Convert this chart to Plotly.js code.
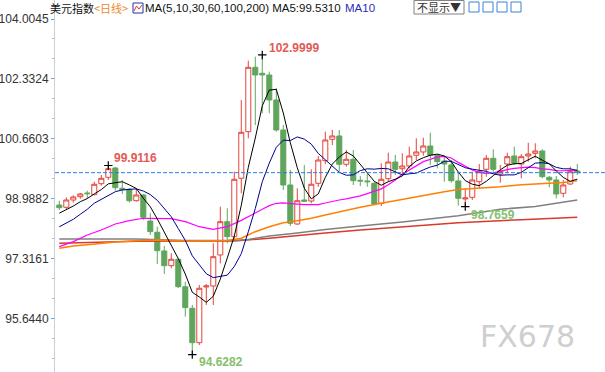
<!DOCTYPE html>
<html><head><meta charset="utf-8">
<script src="https://cdn.plot.ly/plotly-3.0.1.min.js"></script>
<style>html,body{margin:0;padding:0;background:#fff;}#c{width:605px;height:372px;}</style>
</head><body><div id="c"></div>
<script>
// ---- data ----
const opens = [98.809,98.745,98.949,99.041,99.145,99.097,99.404,99.583,99.843,99.276,
99.248,98.929,99.089,98.362,98.047,97.525,97.114,97.293,96.527,95.924,
94.963,96.519,96.547,97.413,98.343,97.924,99.555,100.857,102.655,102.488,
102.440,101.742,100.904,99.368,98.279,98.949,98.921,99.415,100.047,100.644,
100.737,99.946,100.086,99.499,99.480,99.415,98.857,99.544,100.010,99.823,
99.899,100.197,100.290,100.457,100.197,100.038,99.927,99.480,98.977,99.024,
99.460,99.806,100.114,99.675,99.954,100.178,99.954,100.178,100.253,100.318,
99.583,99.508,99.136,99.396,99.759];
const highs = [98.929,99.024,99.080,99.145,99.209,99.460,99.647,99.9116,99.871,99.508,
99.276,99.276,99.117,98.578,98.203,97.664,97.460,97.329,96.667,96.016,
96.575,96.603,97.740,98.762,98.717,99.739,101.742,102.840,102.951,102.9999,
102.533,102.069,101.044,99.787,99.276,99.927,99.806,100.178,100.857,100.904,
100.904,100.346,100.346,99.619,99.675,99.460,99.974,100.270,100.206,100.253,
100.438,100.672,100.689,100.829,100.234,100.158,100.066,99.731,99.276,99.739,
99.954,100.206,100.365,99.927,100.270,100.438,100.234,100.549,100.533,100.365,
99.619,99.619,99.508,99.879,99.954];
const lows = [98.670,98.689,98.874,98.985,98.985,99.080,99.348,99.508,99.209,99.117,
98.874,98.902,98.390,97.971,97.161,96.882,97.041,96.491,95.689,94.6282,
94.899,96.016,96.016,97.181,97.740,97.832,99.136,100.672,101.044,101.371,
101.371,100.857,99.228,98.223,98.251,98.902,98.857,99.320,99.954,100.485,
99.739,99.879,99.368,99.340,99.320,98.801,98.781,99.460,99.647,99.675,
99.834,100.066,100.186,99.927,99.834,99.460,99.432,98.790,98.7659,98.949,
99.276,99.600,99.739,99.432,99.695,99.927,99.555,100.019,100.114,99.555,
99.304,98.996,99.024,99.368,99.647];
const closes = [98.734,98.949,99.033,99.117,99.125,99.388,99.555,99.823,99.293,99.237,
98.929,99.089,98.466,98.064,97.533,97.114,97.293,96.527,95.941,94.963,
96.483,96.547,97.365,98.343,97.924,99.527,100.840,102.655,102.440,102.440,
101.742,100.904,99.368,98.298,98.929,98.913,99.388,100.066,100.625,100.737,
99.946,100.086,99.488,99.480,99.460,98.837,99.527,100.010,99.806,99.899,
100.178,100.290,100.457,100.197,100.019,99.954,99.488,98.996,99.005,99.508,
99.739,100.114,99.806,99.759,100.158,99.974,100.158,100.234,100.318,99.600,
99.508,99.117,99.368,99.739,99.712];

const ma5 = [98.58,98.67,98.78,98.90,98.99,99.12,99.24,99.40,99.44,99.46,
99.37,99.27,99.00,98.76,98.42,98.05,97.69,97.31,96.88,96.37,
96.24,96.09,96.26,96.74,97.33,97.94,98.80,99.86,100.68,101.58,
102.02,102.04,101.38,100.55,99.85,99.28,98.98,99.12,99.58,99.95,
100.15,100.29,100.18,99.95,99.69,99.47,99.36,99.46,99.53,99.62,
99.88,100.04,100.13,100.20,100.23,100.18,100.02,99.73,99.49,99.39,
99.35,99.47,99.63,99.79,99.92,99.96,99.97,100.06,100.17,100.06,
99.96,99.76,99.58,99.47,99.531];
const ma10 = [98.20,98.30,98.41,98.55,98.69,98.86,98.97,99.09,99.18,99.23,
99.24,99.26,99.20,99.10,98.94,98.71,98.48,98.15,97.82,97.39,
97.15,96.89,96.78,96.81,96.85,97.09,97.45,98.06,98.71,99.46,
99.98,100.42,100.62,100.61,100.71,100.65,100.51,100.25,100.07,99.90,
99.72,99.64,99.65,99.77,99.82,99.81,99.83,99.82,99.74,99.65,
99.68,99.70,99.79,99.87,99.92,100.03,100.03,99.93,99.85,99.81,
99.77,99.75,99.68,99.64,99.65,99.65,99.72,99.85,99.98,99.99,
99.96,99.86,99.82,99.82,99.77];
const ma30Pos = [0,2,4,6,8,10,12,14,16,18,20,22,24,26,28,
29,30,31,32,33,34,35,36,37,38,39,40,41,42,43,44,45,46,47,48,49,50,51,
52,53,54,55,56,57,58,59,60,61,62,63,64,65,66,67,68,69,70,71,72,73,74];
const ma30 = [97.645,97.785,97.971,98.111,98.279,98.371,98.438,98.438,98.427,98.343,98.203,98.131,98.203,98.38,98.60,
98.691,98.792,98.857,98.868,98.841,98.834,98.818,98.813,98.821,98.865,98.915,98.949,98.982,99.016,99.064,99.128,99.185,99.260,99.376,99.505,99.669,99.792,99.917,
100.020,100.082,100.152,100.166,100.121,99.999,99.884,99.787,99.720,99.694,99.708,99.757,99.798,99.833,99.859,99.865,99.854,99.816,99.802,99.769,99.765,99.774,99.783];
const ma60Pos = [0,2,4,6,8,11,14,18,22,24,26,28,30,32,34,36,38,40,43,46,49,52,55,57,60,63,66,69,72,74];
const ma60 = [97.600,97.664,97.701,97.740,97.776,97.813,97.832,97.804,97.804,97.818,97.880,98.064,98.203,98.315,98.371,98.438,98.529,98.622,98.745,98.857,98.969,99.061,99.181,99.242,99.276,99.320,99.376,99.41,99.44,99.49];
const ma100Pos = [0,11,18,25,27,30,34,38,43,49,57,63,68,72,74];
const ma100 = [97.860,97.860,97.818,97.818,97.846,97.943,98.027,98.125,98.222,98.334,98.510,98.69,98.77,98.88,98.949];
const ma200Pos = [0,11,18,25,30,34,38,43,49,57,66,74];
const ma200 = [97.740,97.796,97.804,97.804,97.880,97.943,98.027,98.111,98.203,98.315,98.399,98.466];

const tickVals = [104.0045,102.3324,100.6603,98.9882,97.3161,95.6440];
const tickText = ['104.0045','102.3324','100.6603','98.9882','97.3161','95.6440'];

// ---- helpers ----
const pos = closes.map((_, i) => i);
const PX = x => (x - 55) / 550, PY = y => 1 - y / 372;
function argExt(arr, a, b, cmp) { let k = a; for (let i = a; i <= b; i++) if (cmp(arr[i], arr[k])) k = i; return k; }
const iMax = argExt(highs, 0, highs.length - 1, (p, q) => p > q);
const iMin = argExt(lows, 0, lows.length - 1, (p, q) => p < q);
const iLocMax = argExt(highs, 0, 15, (p, q) => p > q);
const iLocMin = argExt(lows, 40, lows.length - 1, (p, q) => p < q);

const RED = '#e4443b', GREEN = '#5fa65c';
const traces = [
  {type: 'candlestick', x: pos, open: opens, high: highs, low: lows, close: closes,
   increasing: {line: {color: RED, width: 1}, fillcolor: '#ffffff'},
   decreasing: {line: {color: GREEN, width: 1}, fillcolor: GREEN},
   whiskerwidth: 0, hoverinfo: 'none', showlegend: false},
  {type: 'scatter', mode: 'lines', x: ma200Pos, y: ma200, line: {color: '#d83a2e', width: 1.5}, hoverinfo: 'none'},
  {type: 'scatter', mode: 'lines', x: ma100Pos, y: ma100, line: {color: '#808080', width: 1.5}, hoverinfo: 'none'},
  {type: 'scatter', mode: 'lines', x: ma60Pos, y: ma60, line: {color: '#ff8000', width: 1.5}, hoverinfo: 'none'},
  {type: 'scatter', mode: 'lines', x: ma30Pos, y: ma30, line: {color: '#ff00ff', width: 1.2}, hoverinfo: 'none'},
  {type: 'scatter', mode: 'lines', x: pos, y: ma10, line: {color: '#00008c', width: 1}, hoverinfo: 'none'},
  {type: 'scatter', mode: 'lines', x: pos, y: ma5, line: {color: '#000000', width: 1}, hoverinfo: 'none'},
  {type: 'scatter', mode: 'markers', x: [iLocMax, iMax, iMin, iLocMin], y: [highs[iLocMax], highs[iMax], lows[iMin], lows[iLocMin]],
   marker: {symbol: 'cross-thin', size: 6, line: {color: '#000', width: 1.2}}, hoverinfo: 'none'}
];

const hdrFont = {family: 'Noto Sans CJK SC, Liberation Sans, sans-serif', size: 11, color: '#111'};
const lblRed = {family: 'Liberation Sans, Arial, sans-serif', size: 12, color: '#e35a55', weight: 'bold'};
const lblGreen = {family: 'Liberation Sans, Arial, sans-serif', size: 12, color: '#86c06e', weight: 'bold'};
const annotations = [
  {xref: 'x', yref: 'y', x: iLocMax, y: highs[iLocMax], text: highs[iLocMax].toFixed(4), showarrow: false, xanchor: 'left', yanchor: 'middle', xshift: 4, yshift: 8, font: lblRed},
  {xref: 'x', yref: 'y', x: iMax, y: highs[iMax], text: highs[iMax].toFixed(4), showarrow: false, xanchor: 'left', yanchor: 'middle', xshift: 5, yshift: 7, font: lblRed},
  {xref: 'x', yref: 'y', x: iMin, y: lows[iMin], text: lows[iMin].toFixed(4), showarrow: false, xanchor: 'left', yanchor: 'middle', xshift: 5, yshift: -7, font: lblGreen},
  {xref: 'x', yref: 'y', x: iLocMin, y: lows[iLocMin], text: lows[iLocMin].toFixed(4), showarrow: false, xanchor: 'left', yanchor: 'middle', xshift: 4, yshift: -8, font: lblGreen},
  {xref: 'paper', yref: 'paper', x: PX(48), y: PY(8), xanchor: 'left', yanchor: 'middle', showarrow: false,
   text: '美元指数<span style="color:#f0882a">&lt;日线&gt;</span>', font: hdrFont},
  {xref: 'paper', yref: 'paper', x: PX(143), y: PY(8), xanchor: 'left', yanchor: 'middle', showarrow: false,
   text: 'MA(5,10,30,60,100,200) MA5:' + ma5[ma5.length - 1].toFixed(4), font: {family: 'Liberation Sans, Arial, sans-serif', size: 11.5, color: '#111'}},
  {xref: 'paper', yref: 'paper', x: PX(343), y: PY(8), xanchor: 'left', yanchor: 'middle', showarrow: false,
   text: 'MA10', font: {family: 'Liberation Sans, Arial, sans-serif', size: 11.5, color: '#2b2bb8'}},
  {xref: 'paper', yref: 'paper', x: PX(439), y: PY(7.5), xanchor: 'center', yanchor: 'middle', showarrow: false,
   text: '不显示▼', font: {family: 'Noto Sans CJK SC, sans-serif', size: 11, color: '#333'}},
  {xref: 'paper', yref: 'paper', x: PX(527), y: PY(336), xanchor: 'center', yanchor: 'middle', showarrow: false,
   text: 'FX678', font: {family: 'DejaVu Sans, sans-serif', size: 30, color: '#cfcfcf'}}
];

const shapes = [
  {type: 'line', xref: 'paper', yref: 'y', x0: 0, x1: 1, y0: closes[closes.length - 1], y1: closes[closes.length - 1],
   line: {color: '#2a7de0', width: 1, dash: '4px,2px'}},
  {type: 'rect', xref: 'paper', yref: 'paper', x0: PX(133), x1: PX(143), y0: PY(13), y1: PY(3), line: {color: '#2233aa', width: 1}, fillcolor: '#fff'},
  {type: 'path', xref: 'paper', yref: 'paper', path: 'M' + PX(134) + ',' + PY(11) + ' L' + PX(136.5) + ',' + PY(6) + ' L' + PX(139) + ',' + PY(9) + ' L' + PX(142) + ',' + PY(5), line: {color: '#d33', width: 1}},
  {type: 'rect', xref: 'paper', yref: 'paper', x0: PX(414), x1: PX(464), y0: PY(14), y1: PY(0.5), line: {color: '#808080', width: 1}, fillcolor: '#fff', layer: 'below'}
];
[469, 483, 497, 511].forEach(x => shapes.push({type: 'rect', xref: 'paper', yref: 'paper', x0: PX(x), x1: PX(x + 10), y0: PY(12), y1: PY(2), line: {color: '#3b82d6', width: 1}}));

const layout = {
  width: 605, height: 372, margin: {l: 55, r: 0, t: 0, b: 0},
  paper_bgcolor: '#fff', plot_bgcolor: '#fff', showlegend: false,
  boxgap: 0.28, boxgroupgap: 0,
  xaxis: {type: 'linear', range: [-0.614, 77.96], visible: false, rangeslider: {visible: false}, fixedrange: true},
  yaxis: {range: [94.1441, 104.5352], tickmode: 'array', tickvals: tickVals, ticktext: tickText,
    ticks: 'outside', ticklen: 3, tickcolor: '#6f9fd6', showline: true, linecolor: '#c9d0d8', linewidth: 1,
    showgrid: false, zeroline: false, fixedrange: true,
    tickfont: {family: 'Liberation Sans, Arial, sans-serif', size: 12, color: '#333'},
    minor: {tickmode: 'linear', tick0: 95.644, dtick: 0.557367, ticks: 'outside', ticklen: 2, tickcolor: '#b8b8b8', showgrid: false}},
  annotations: annotations, shapes: shapes
};
Plotly.newPlot('c', traces, layout, {staticPlot: true, displayModeBar: false});
</script></body></html>
